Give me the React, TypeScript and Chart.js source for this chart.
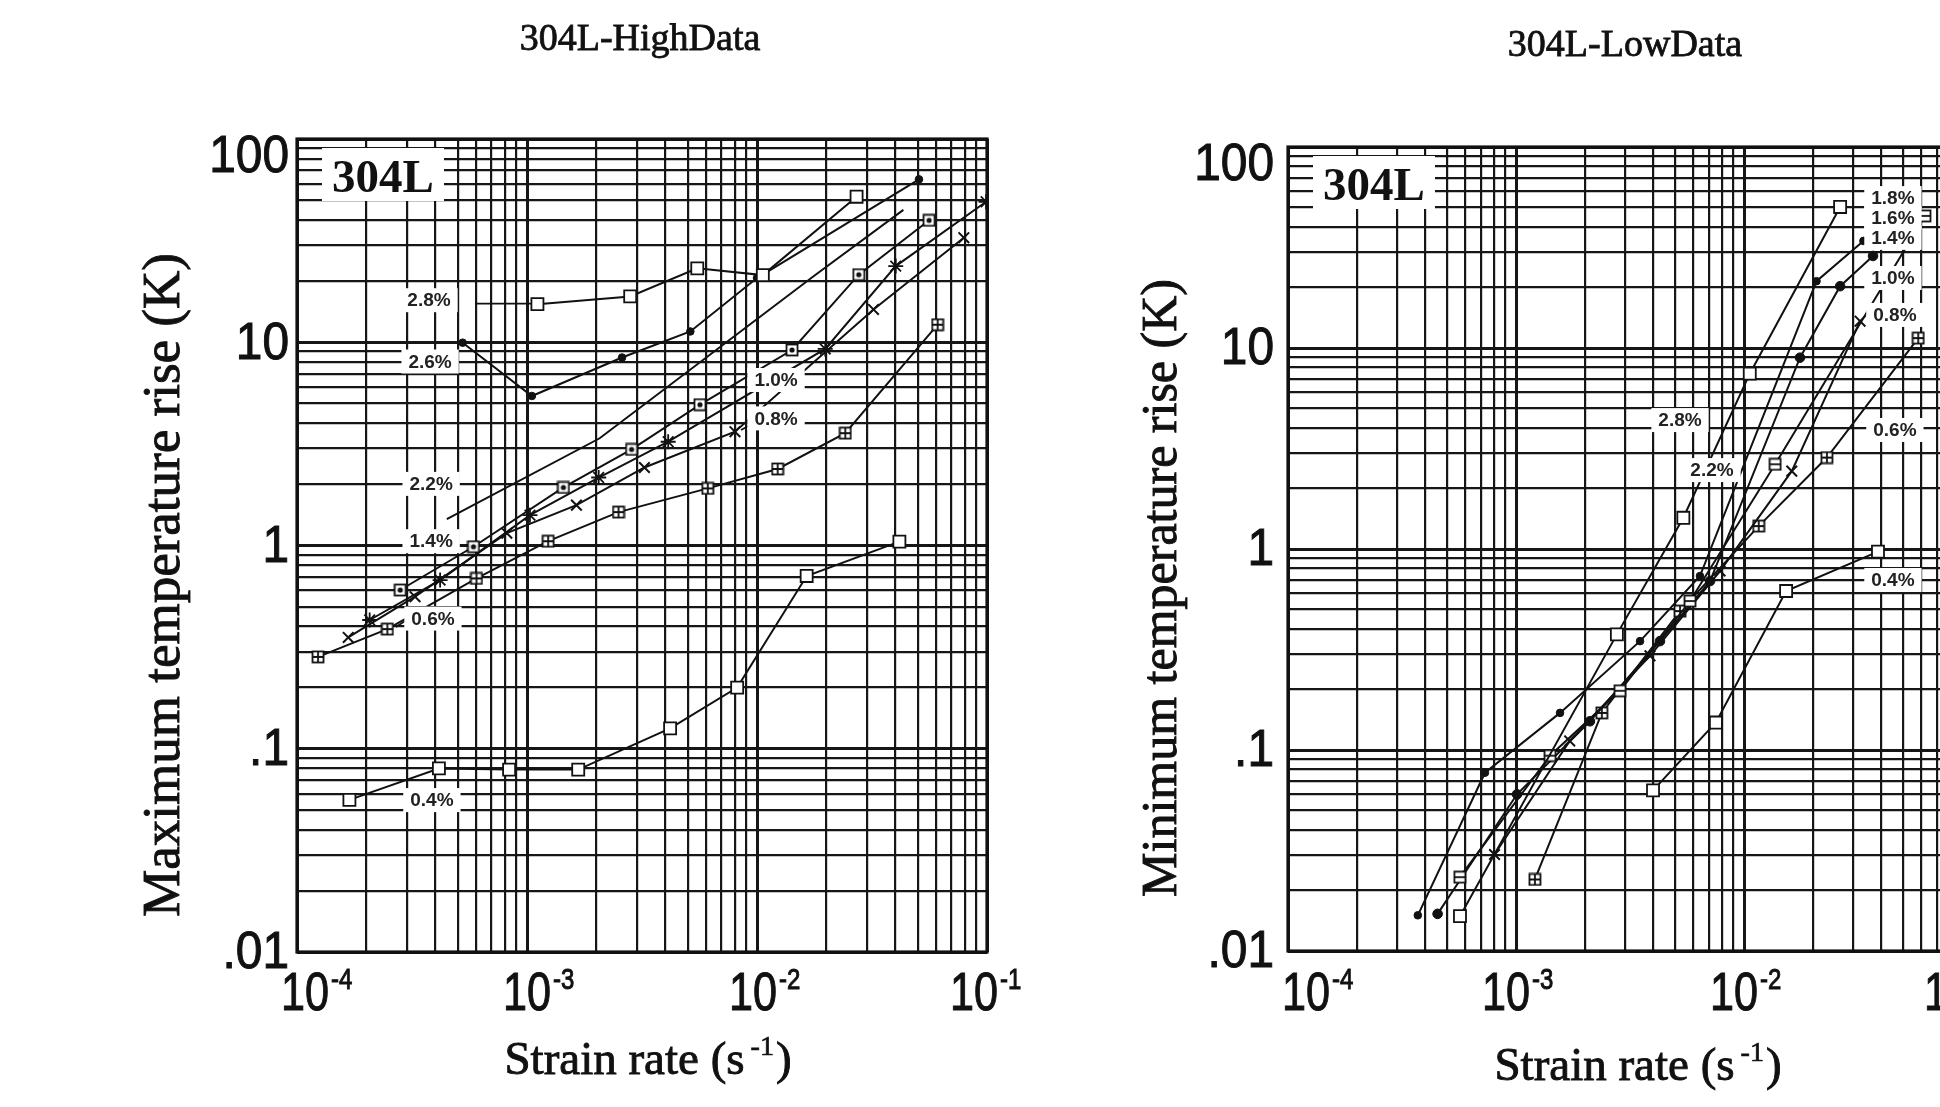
import { useEffect, useRef } from "react";
import { Chart, registerables } from "chart.js";

Chart.register(...registerables);

// ---- axes (log-log) ----
const RATE_MIN = 1e-4;
const RATE_MAX = 1e-1;
const RISE_MIN = 0.01;
const RISE_MAX = 100;

const rateDecades = [1e-4, 1e-3, 1e-2, 1e-1];
const rateExponents = ["-4", "-3", "-2", "-1"];
const riseDecades = [100, 10, 1, 0.1, 0.01];
const riseLabels = ["100", "10", "1", ".1", ".01"];

// ---- 304L high data: maximum temperature rise (K) vs strain rate (1/s) ----
const high28Rate = [1.11e-3, 2.81e-3, 5.5e-3, 1.06e-2, 2.71e-2];
const high28Rise = [15.4, 16.8, 23.1, 21.4, 52];
const high26Rate = [5.25e-4, 1.05e-3, 2.59e-3, 5.13e-3, 1.0e-2, 5.06e-2];
const high26Rise = [9.95, 5.44, 8.41, 11.3, 20.7, 63.3];
const high22Rate = [4.48e-4, 2.07e-3, 1.75e-2, 4.33e-2];
const high22Rise = [1.35, 3.37, 21.0, 44.8];
const high14Rate = [2.81e-4, 5.85e-4, 1.44e-3, 2.85e-3, 5.65e-3, 1.42e-2, 2.77e-2, 5.6e-2];
const high14Rise = [0.604, 0.986, 1.93, 2.97, 4.93, 9.16, 21.5, 39.8];
const high10Rate = [2.07e-4, 4.19e-4, 1.03e-3, 2.05e-3, 4.11e-3, 1.98e-2, 4.01e-2, 9.91e-2];
const high10Rise = [0.43, 0.676, 1.41, 2.16, 3.24, 9.27, 23.7, 49.1];
const high08Rate = [1.67e-4, 3.26e-4, 8.17e-4, 1.64e-3, 3.24e-3, 8.02e-3, 3.21e-2, 7.93e-2];
const high08Rise = [0.353, 0.56, 1.15, 1.58, 2.42, 3.63, 14.5, 32.7];
const high06Rate = [1.234e-4, 2.47e-4, 6.03e-4, 1.236e-3, 2.5e-3, 6.11e-3, 1.23e-2, 2.42e-2, 6.1e-2];
const high06Rise = [0.283, 0.388, 0.689, 1.05, 1.46, 1.91, 2.38, 3.57, 12.2];
const high04Rate = [1.69e-4, 4.14e-4, 8.36e-4, 1.67e-3, 4.19e-3, 8.2e-3, 1.644e-2, 4.16e-2];
const high04Rise = [0.056, 0.08, 0.079, 0.079, 0.126, 0.2, 0.708, 1.045];

// curve tags and where they sit (strain rate, temperature rise)
const highTagText = ["2.8%", "2.6%", "2.2%", "1.4%", "0.6%", "0.4%", "1.0%", "0.8%"];
const highTagRate = [3.75e-4, 3.79e-4, 3.83e-4, 3.83e-4, 3.9e-4, 3.86e-4, 1.21e-2, 1.21e-2];
const highTagRise = [16.1, 8.04, 2.01, 1.05, 0.437, 0.0559, 6.52, 4.22];
// short leader strokes: [rate1, rise1, rate2, rise2]
const highLeaders: [number, number, number, number][] = [
  [5.94e-4, 15.5, 1.05e-3, 15.5],
  [3.04e-4, 0.435, 2.69e-4, 0.397],
  [9.51e-3, 3.96, 8.52e-3, 3.7],
];

// ---- 304L low data: minimum temperature rise (K) vs strain rate (1/s) ----
const low28Rate = [5.68e-4, 2.77e-3, 5.42e-3, 1.06e-2, 2.64e-2];
const low28Rise = [0.0149, 0.376, 1.43, 7.45, 50.3];
const low18Rate = [5.67e-4, 1.41e-3, 2.86e-3, 5.8e-3, 1.37e-2, 6.22e-2];
const low18Rise = [0.0233, 0.0937, 0.197, 0.551, 2.64, 45.4];
const low14Rate = [3.71e-4, 7.31e-4, 1.56e-3, 3.5e-3, 6.41e-3, 2.08e-2, 3.34e-2];
const low14Rise = [0.01505, 0.0771, 0.153, 0.348, 0.734, 21.5, 34.1];
const low10Rate = [4.53e-4, 1.01e-3, 2.11e-3, 4.28e-3, 7.1e-3, 1.76e-2, 2.64e-2, 3.68e-2];
const low10Rise = [0.0153, 0.0602, 0.139, 0.348, 0.693, 8.95, 20.3, 28.7];
const low08Rate = [8.05e-4, 1.72e-3, 3.87e-3, 7.85e-3, 1.62e-2, 3.23e-2];
const low08Rise = [0.0302, 0.111, 0.294, 0.777, 2.44, 13.6];
const low06Rate = [1.21e-3, 2.38e-3, 5.24e-3, 1.16e-2, 2.31e-2, 5.81e-2];
const low06Rise = [0.0227, 0.153, 0.491, 1.3, 2.85, 11.2];
const low04Rate = [3.99e-3, 7.53e-3, 1.53e-2, 3.87e-2];
const low04Rise = [0.063, 0.137, 0.618, 0.97];

const lowTagText = ["2.8%", "2.2%", "1.8%", "1.6%", "1.4%", "1.0%", "0.8%", "0.6%", "0.4%"];
const lowTagRate = [5.24e-3, 7.24e-3, 4.5e-2, 4.5e-2, 4.5e-2, 4.5e-2, 4.59e-2, 4.59e-2, 4.5e-2];
const lowTagRise = [4.38, 2.47, 55.7, 44.4, 35.3, 22.3, 14.6, 3.91, 0.701];
const lowLeaders: [number, number, number, number][] = [];

// ---- styling ----
const INK = "#111";
const SANS = '"Liberation Sans", Arial, Helvetica, sans-serif';
const SERIF = '"Liberation Serif", "Times New Roman", serif';

type Marker = "open" | "dot" | "bigDot" | "none" | "star" | "cross" | "boxPlus" | "boxMinus" | "boxDot";
type Series = { name: string; rate: number[]; rise: number[]; marker: Marker };

const highSeries: Series[] = [
  { name: "2.8%", rate: high28Rate, rise: high28Rise, marker: "open" },
  { name: "2.6%", rate: high26Rate, rise: high26Rise, marker: "dot" },
  { name: "2.2%", rate: high22Rate, rise: high22Rise, marker: "none" },
  { name: "1.4%", rate: high14Rate, rise: high14Rise, marker: "boxDot" },
  { name: "1.0%", rate: high10Rate, rise: high10Rise, marker: "star" },
  { name: "0.8%", rate: high08Rate, rise: high08Rise, marker: "cross" },
  { name: "0.6%", rate: high06Rate, rise: high06Rise, marker: "boxPlus" },
  { name: "0.4%", rate: high04Rate, rise: high04Rise, marker: "open" },
];

const lowSeries: Series[] = [
  { name: "2.8%", rate: low28Rate, rise: low28Rise, marker: "open" },
  { name: "1.8%", rate: low18Rate, rise: low18Rise, marker: "boxMinus" },
  { name: "1.4%", rate: low14Rate, rise: low14Rise, marker: "dot" },
  { name: "1.0%", rate: low10Rate, rise: low10Rise, marker: "bigDot" },
  { name: "0.8%", rate: low08Rate, rise: low08Rise, marker: "cross" },
  { name: "0.6%", rate: low06Rate, rise: low06Rise, marker: "boxPlus" },
  { name: "0.4%", rate: low04Rate, rise: low04Rise, marker: "open" },
];

type PanelLayout = {
  title: string;
  titleX: number;
  titleY: number;
  yTitle: string;
  yTitleX: number;
  yTitleY: number;
  yTitleSize: number;
  xTitleX: number;
  xTitleBaseline: number;
  xLabelShift: number[];
  yLabelGap: number;
  padding: { left: number; right: number; top: number; bottom: number };
  tagText: string[];
  tagRate: number[];
  tagRise: number[];
  leaders: [number, number, number, number][];
};

const highLayout: PanelLayout = {
  title: "304L-HighData",
  titleX: 640,
  titleY: 40,
  yTitle: "Maximum temperature rise (K)",
  yTitleX: 165,
  yTitleY: 585,
  yTitleSize: 53,
  xTitleX: 648,
  xTitleBaseline: 1074,
  xLabelShift: [8, 0, -4, -13],
  yLabelGap: 8,
  padding: { left: 297, right: 113, top: 139, bottom: 155 },
  tagText: highTagText,
  tagRate: highTagRate,
  tagRise: highTagRise,
  leaders: highLeaders,
};

const lowLayout: PanelLayout = {
  title: "304L-LowData",
  titleX: 625,
  titleY: 46,
  yTitle: "Minimum temperature rise (K)",
  yTitleX: 163,
  yTitleY: 588,
  yTitleSize: 50,
  xTitleX: 638,
  xTitleBaseline: 1080,
  xLabelShift: [18, -10, -10, -24],
  yLabelGap: 14,
  padding: { left: 288, right: 28, top: 147, bottom: 156 },
  tagText: lowTagText,
  tagRate: lowTagRate,
  tagRise: lowTagRise,
  leaders: lowLeaders,
};

// 1..9 x 10^k grid positions across a range
function logGrid(min: number, max: number): number[] {
  const out: number[] = [];
  for (let e = Math.round(Math.log10(min)); e < Math.round(Math.log10(max)); e++) {
    for (let m = 1; m <= 9; m++) out.push(m * Math.pow(10, e));
  }
  out.push(max);
  return out;
}

function isDecade(v: number): boolean {
  const l = Math.log10(v);
  return Math.abs(l - Math.round(l)) < 1e-6;
}

function boxMarker(kind: "plus" | "minus" | "dot"): HTMLCanvasElement {
  const s = 14;
  const c = document.createElement("canvas");
  c.width = s;
  c.height = s;
  const g = c.getContext("2d")!;
  g.fillStyle = "#fff";
  g.fillRect(1, 1, s - 2, s - 2);
  g.strokeStyle = INK;
  g.lineWidth = 1.8;
  g.strokeRect(1.5, 1.5, s - 3, s - 3);
  const m = s / 2;
  g.beginPath();
  if (kind !== "dot") {
    g.moveTo(2, m);
    g.lineTo(s - 2, m);
  }
  if (kind === "plus") {
    g.moveTo(m, 2);
    g.lineTo(m, s - 2);
  }
  g.stroke();
  if (kind === "dot") {
    g.fillStyle = INK;
    g.beginPath();
    g.arc(m, m, 2.6, 0, Math.PI * 2);
    g.fill();
  }
  return c;
}

function markerStyle(kind: Marker, imgs: Record<string, HTMLCanvasElement>) {
  switch (kind) {
    case "open":
      return { pointStyle: "rect", pointRadius: 8.5, pointBackgroundColor: "#fff", pointBorderWidth: 1.8 };
    case "dot":
      return { pointStyle: "circle", pointRadius: 3.8, pointBackgroundColor: INK, pointBorderWidth: 1 };
    case "bigDot":
      return { pointStyle: "circle", pointRadius: 4.8, pointBackgroundColor: INK, pointBorderWidth: 1 };
    case "star":
      return { pointStyle: "star", pointRadius: 7.5, pointBackgroundColor: INK, pointBorderWidth: 1.8 };
    case "cross":
      return { pointStyle: "crossRot", pointRadius: 7.5, pointBackgroundColor: INK, pointBorderWidth: 2 };
    case "boxPlus":
      return { pointStyle: imgs.plus, pointRadius: 6 };
    case "boxMinus":
      return { pointStyle: imgs.minus, pointRadius: 6 };
    case "boxDot":
      return { pointStyle: imgs.dot, pointRadius: 6 };
    default:
      return { pointStyle: "circle", pointRadius: 0 };
  }
}

// text drawn with a light outline so strokes read as heavy as printed type
function inkText(ctx: CanvasRenderingContext2D, text: string, x: number, y: number, weight = 0.7) {
  ctx.fillText(text, x, y);
  ctx.lineWidth = weight;
  ctx.strokeText(text, x, y);
}

function drawScaled(ctx: CanvasRenderingContext2D, text: string, x: number, y: number, sx: number, align: CanvasTextAlign) {
  ctx.save();
  ctx.translate(x, y);
  ctx.scale(sx, 1);
  ctx.textAlign = align;
  inkText(ctx, text, 0, 0, 1);
  ctx.restore();
}

function decorPlugin(p: PanelLayout) {
  return {
    id: "panelDecor",
    afterDatasetsDraw(chart: Chart) {
      const ctx = chart.ctx;
      const { left, right, top, bottom } = chart.chartArea;
      const xs = chart.scales.x;
      const ys = chart.scales.y;
      ctx.save();
      ctx.fillStyle = INK;
      ctx.strokeStyle = INK;

      // leader strokes
      ctx.lineWidth = 1.8;
      p.leaders.forEach(([r1, t1, r2, t2]) => {
        ctx.beginPath();
        ctx.moveTo(xs.getPixelForValue(r1), ys.getPixelForValue(t1));
        ctx.lineTo(xs.getPixelForValue(r2), ys.getPixelForValue(t2));
        ctx.stroke();
      });

      // curve tags on white patches
      ctx.font = `bold 19px ${SANS}`;
      ctx.textBaseline = "middle";
      p.tagText.forEach((txt, i) => {
        const x = xs.getPixelForValue(p.tagRate[i]);
        const y = ys.getPixelForValue(p.tagRise[i]);
        const w = ctx.measureText(txt).width;
        ctx.fillStyle = "#fff";
        ctx.fillRect(x - w / 2 - 7, y - 12, w + 14, 24);
        ctx.fillStyle = "#222";
        ctx.textAlign = "center";
        ctx.fillText(txt, x, y + 1);
      });
      ctx.fillStyle = INK;

      // material tag in the corner
      ctx.fillStyle = "#fff";
      ctx.fillRect(left + 25, top + 9, 122, 53);
      ctx.fillStyle = INK;
      ctx.font = `bold 47px ${SERIF}`;
      ctx.textAlign = "center";
      ctx.textBaseline = "alphabetic";
      ctx.fillText("304L", left + 86, top + 53);

      // frame
      ctx.lineWidth = 3.2;
      ctx.strokeRect(left, top, right - left, bottom - top);

      // title
      ctx.font = `38px ${SERIF}`;
      ctx.textAlign = "center";
      ctx.textBaseline = "middle";
      inkText(ctx, p.title, p.titleX, p.titleY, 0.8);

      // y decade labels
      ctx.font = `52px ${SANS}`;
      ctx.textBaseline = "middle";
      riseDecades.forEach((v, i) => {
        const y = Math.max(ys.getPixelForValue(v) + 2, top + 19);
        drawScaled(ctx, riseLabels[i], left - p.yLabelGap, y, 0.92, "right");
      });

      // x decade labels as 10 with superscript exponent
      ctx.textBaseline = "alphabetic";
      const baseline = 1010;
      rateDecades.forEach((v, i) => {
        ctx.font = `54px ${SANS}`;
        const w = ctx.measureText("10").width * 0.8;
        const cx = xs.getPixelForValue(v) + p.xLabelShift[i];
        const x0 = cx - w / 2;
        drawScaled(ctx, "10", x0, baseline, 0.8, "left");
        ctx.font = `30px ${SANS}`;
        drawScaled(ctx, rateExponents[i], x0 + w + 2, baseline - 21, 0.8, "left");
      });

      // x axis title with superscript
      const main = "Strain rate (s";
      ctx.font = `47px ${SERIF}`;
      const w1 = ctx.measureText(main).width;
      const w3 = ctx.measureText(")").width;
      ctx.font = `28px ${SERIF}`;
      const w2 = ctx.measureText("-1").width;
      const total = w1 + 6 + w2 + 2 + w3;
      let x = p.xTitleX - total / 2;
      ctx.textAlign = "left";
      ctx.font = `47px ${SERIF}`;
      inkText(ctx, main, x, p.xTitleBaseline, 0.9);
      x += w1 + 6;
      ctx.font = `28px ${SERIF}`;
      inkText(ctx, "-1", x, p.xTitleBaseline - 19, 0.7);
      x += w2 + 2;
      ctx.font = `47px ${SERIF}`;
      inkText(ctx, ")", x, p.xTitleBaseline, 0.9);

      // y axis title
      ctx.save();
      ctx.translate(p.yTitleX, p.yTitleY);
      ctx.rotate(-Math.PI / 2);
      ctx.font = `${p.yTitleSize}px ${SERIF}`;
      ctx.textAlign = "center";
      ctx.textBaseline = "middle";
      inkText(ctx, p.yTitle, 0, 0, 0.9);
      ctx.restore();

      ctx.restore();
    },
  };
}

function buildChart(canvas: HTMLCanvasElement, series: Series[], layout: PanelLayout): Chart {
  const imgs = { plus: boxMarker("plus"), minus: boxMarker("minus"), dot: boxMarker("dot") };
  const xGrid = logGrid(RATE_MIN, RATE_MAX);
  const yGrid = logGrid(RISE_MIN, RISE_MAX);
  const datasets = series.map((s) => ({
    label: s.name,
    data: s.rate.map((r, i) => ({ x: r, y: s.rise[i] })),
    showLine: true,
    borderColor: INK,
    borderWidth: 2,
    pointBorderColor: INK,
    ...markerStyle(s.marker, imgs),
  }));
  const gridStyle = {
    color: "#161616",
    lineWidth: (c: any) => (c.tick && isDecade(c.tick.value) ? 3 : 2.2),
    drawTicks: false,
  };
  return new Chart(canvas, {
    type: "scatter",
    data: { datasets: datasets as any },
    options: {
      animation: false,
      responsive: false,
      devicePixelRatio: 1,
      layout: { padding: layout.padding },
      plugins: { legend: { display: false }, tooltip: { enabled: false }, title: { display: false } },
      scales: {
        x: {
          type: "logarithmic",
          min: RATE_MIN,
          max: RATE_MAX,
          ticks: { display: false, autoSkip: false },
          grid: gridStyle,
          border: { display: false },
          afterBuildTicks: (axis: any) => {
            axis.ticks = xGrid.map((v) => ({ value: v }));
          },
        },
        y: {
          type: "logarithmic",
          min: RISE_MIN,
          max: RISE_MAX,
          ticks: { display: false, autoSkip: false },
          grid: gridStyle,
          border: { display: false },
          afterBuildTicks: (axis: any) => {
            axis.ticks = yGrid.map((v) => ({ value: v }));
          },
        },
      },
    } as any,
    plugins: [decorPlugin(layout)],
  });
}

export default function App() {
  const leftRef = useRef<HTMLCanvasElement>(null);
  const rightRef = useRef<HTMLCanvasElement>(null);

  useEffect(() => {
    const charts = [
      buildChart(leftRef.current!, highSeries, highLayout),
      buildChart(rightRef.current!, lowSeries, lowLayout),
    ];
    return () => charts.forEach((c) => c.destroy());
  }, []);

  return (
    <div
      style={{
        position: "fixed",
        left: 0,
        top: 0,
        width: 1940,
        height: 1107,
        overflow: "hidden",
        background: "#fff",
      }}
    >
      <canvas ref={rightRef} width={1000} height={1107} style={{ position: "absolute", left: 1000, top: 0 }} />
      <canvas ref={leftRef} width={1100} height={1107} style={{ position: "absolute", left: 0, top: 0 }} />
    </div>
  );
}
